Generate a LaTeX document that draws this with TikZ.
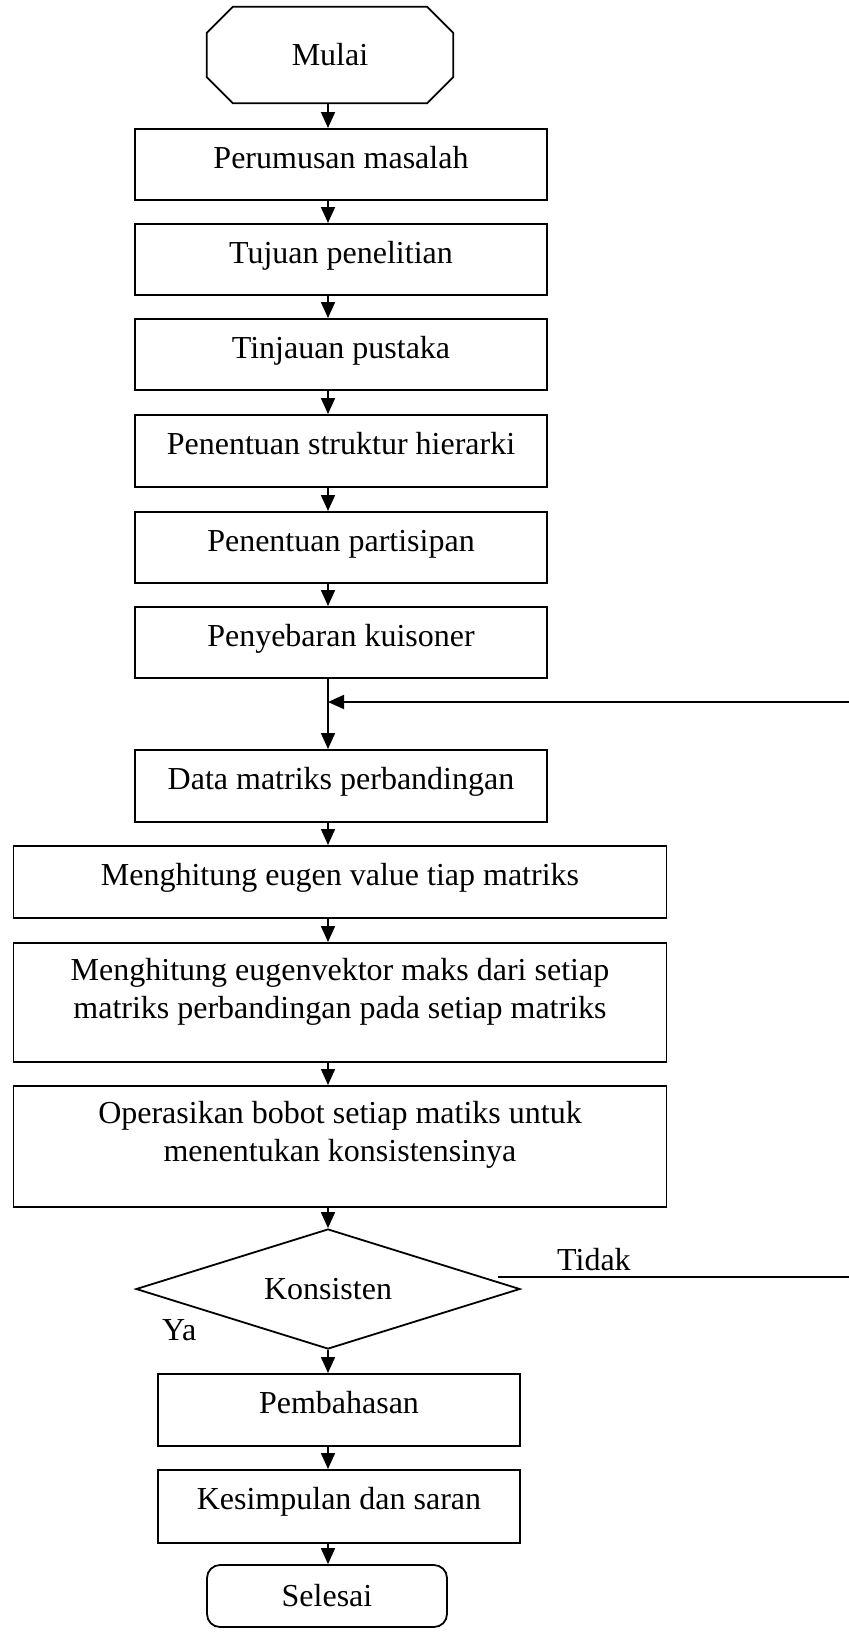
\documentclass[tikz,border=0pt]{standalone}
\usepackage{fontspec}
\setmainfont{Liberation Serif}
\usetikzlibrary{arrows.meta,shapes.geometric}
\begin{document}
\begin{tikzpicture}[x=1pt,y=-1pt,
  font=\fontsize{32pt}{38pt}\selectfont,
  ln/.style={line width=1.8pt},
  arr/.style={line width=1.8pt,-{Triangle[width=14pt,length=16pt]}},
  box/.style={draw,ln,rectangle,inner xsep=0pt,inner ysep=0pt,anchor=north,
              text height=40pt,minimum width=412pt},
  widebox/.style={box,minimum width=653pt},
  midbox/.style={box,minimum width=362pt}]
\useasboundingbox (0,0) rectangle (849,1634);
\coordinate (ax) at (328,0);

% start
\node[inner sep=0pt,minimum width=246pt,minimum height=96pt] (mulai) at (330,55) {Mulai};
\draw[ln] ([xshift=26pt]mulai.north west) -- ([xshift=-26pt]mulai.north east)
  -- ([yshift=-26pt]mulai.north east) -- ([yshift=26pt]mulai.south east)
  -- ([xshift=-26pt]mulai.south east) -- ([xshift=26pt]mulai.south west)
  -- ([yshift=26pt]mulai.south west) -- ([yshift=-26pt]mulai.north west) -- cycle;

\node[box,text depth=31pt,minimum height=71pt] (b1) at (341,128) {Perumusan masalah};
\node[box,text depth=31pt,minimum height=71pt] (b2) at (341,223) {Tujuan penelitian};
\node[box,text depth=31pt,minimum height=71pt] (b3) at (341,318) {Tinjauan pustaka};
\node[box,text depth=32pt,minimum height=72pt] (b4) at (341,414) {Penentuan struktur hierarki};
\node[box,text depth=31pt,minimum height=71pt] (b5) at (341,511) {Penentuan partisipan};
\node[box,text depth=31pt,minimum height=71pt] (b6) at (341,606) {Penyebaran kuisoner};
\node[box,text depth=32pt,minimum height=72pt] (b7) at (341,749) {Data matriks perbandingan};
\node[widebox,text depth=32pt,minimum height=72pt] (b8) at (340,845) {Menghitung eugen value tiap matriks};
\node[widebox,text height=38pt,text depth=81pt,minimum height=119pt] (b9) at (340,942)
  {\parbox[t]{640pt}{\centering Menghitung eugenvektor maks dari setiap\\matriks perbandingan pada setiap matriks}};
\node[widebox,text height=38pt,text depth=83pt,minimum height=121pt] (b10) at (340,1085)
  {\parbox[t]{640pt}{\centering Operasikan bobot setiap matiks untuk\\menentukan konsistensinya}};

\node[diamond,draw,ln,aspect=3.2,inner sep=0pt,minimum width=384pt,minimum height=120pt] (k) at (328,1289) {Konsisten};

\node[midbox,text depth=32pt,minimum height=72pt] (b11) at (339,1373) {Pembahasan};
\node[midbox,text depth=33pt,minimum height=73pt] (b12) at (339,1469) {Kesimpulan dan saran};

\node[draw,ln,rounded corners=13pt,inner sep=0pt,minimum width=240pt,minimum height=62pt] (end) at (327,1596) {Selesai};

% labels
\node[anchor=base west,inner sep=0pt] (tidak) at (557,1270) {Tidak};
\node[anchor=base west,inner sep=0pt] (ya) at (162,1340) {Ya};

% connectors
\draw[arr] (mulai.south -| ax) -- (b1.north -| ax);
\draw[arr] (b1.south -| ax) -- (b2.north -| ax);
\draw[arr] (b2.south -| ax) -- (b3.north -| ax);
\draw[arr] (b3.south -| ax) -- (b4.north -| ax);
\draw[arr] (b4.south -| ax) -- (b5.north -| ax);
\draw[arr] (b5.south -| ax) -- (b6.north -| ax);
\draw[arr] (b6.south -| ax) -- (b7.north -| ax);
\draw[arr] (b7.south -| ax) -- (b8.north -| ax);
\draw[arr] (b8.south -| ax) -- (b9.north -| ax);
\draw[arr] (b9.south -| ax) -- (b10.north -| ax);
\draw[arr] (b10.south -| ax) -- (k.north);
\draw[arr] (k.south) -- (b11.north -| ax);
\draw[arr] (b11.south -| ax) -- (b12.north -| ax);
\draw[arr] (b12.south -| ax) -- (end.north -| ax);

% feedback (Tidak)
\coordinate (fbR) at (849,702);
\coordinate (tR) at (849,1277);
\draw[ln] ([xshift=-23pt,yshift=12pt]k.east) -- (tR);
\draw[arr] (fbR) -- (fbR -| ax);
\end{tikzpicture}
\end{document}
